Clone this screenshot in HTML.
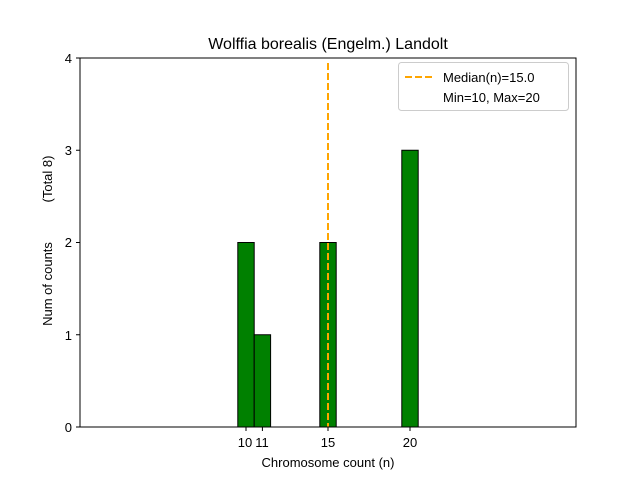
<!DOCTYPE html>
<html><head><style>body{margin:0;background:#fff}</style></head><body>
<svg width="640" height="480" xmlns="http://www.w3.org/2000/svg" font-family="Liberation Sans, DejaVu Sans, sans-serif">
<rect width="640" height="480" fill="#fff"/>
<g stroke="#000" stroke-width="1" fill="#008000">
<rect x="237.8" y="242.5" width="16.4" height="184.5"/>
<rect x="254.2" y="334.75" width="16.4" height="92.25"/>
<rect x="319.8" y="242.5" width="16.4" height="184.5"/>
<rect x="401.8" y="150.25" width="16.4" height="276.75"/>
</g>
<line x1="328" y1="63" x2="328" y2="427" stroke="#FFA500" stroke-width="2" stroke-dasharray="7,3"/>
<rect x="80" y="58" width="496" height="369" fill="none" stroke="#000" stroke-width="1"/>
<g stroke="#000">
<line x1="80" y1="427" x2="76" y2="427"/><line x1="80" y1="334.75" x2="76" y2="334.75"/>
<line x1="80" y1="242.5" x2="76" y2="242.5"/><line x1="80" y1="150.25" x2="76" y2="150.25"/>
<line x1="80" y1="58" x2="76" y2="58"/>
<line x1="246" y1="427" x2="246" y2="431"/><line x1="262.4" y1="427" x2="262.4" y2="431"/>
<line x1="328" y1="427" x2="328" y2="431"/><line x1="410" y1="427" x2="410" y2="431"/>
</g>
<g font-size="13" fill="#000">
<g text-anchor="end">
<text x="72" y="432">0</text><text x="72" y="340">1</text><text x="72" y="247">2</text>
<text x="72" y="155">3</text><text x="72" y="63">4</text></g>
<g text-anchor="middle">
<text x="245" y="447">10</text><text x="262" y="447">11</text>
<text x="328" y="447">15</text><text x="410" y="447">20</text>
<text x="328" y="467">Chromosome count (n)</text>
<text x="328" y="49" font-size="16">Wolffia borealis (Engelm.) Landolt</text>
</g>
<text transform="translate(52,284) rotate(-90)" text-anchor="middle">Num of counts</text>
<text transform="translate(52,179) rotate(-90)" text-anchor="middle">(Total 8)</text>
</g>
<rect x="398.5" y="62.5" width="170" height="48" rx="3" fill="#fff" stroke="#ccc"/>
<line x1="405" y1="77" x2="433" y2="77" stroke="#FFA500" stroke-width="2" stroke-dasharray="7,3"/>
<text x="443" y="82" font-size="13">Median(n)=15.0</text>
<text x="443" y="102" font-size="13">Min=10, Max=20</text>
</svg>
</body></html>
